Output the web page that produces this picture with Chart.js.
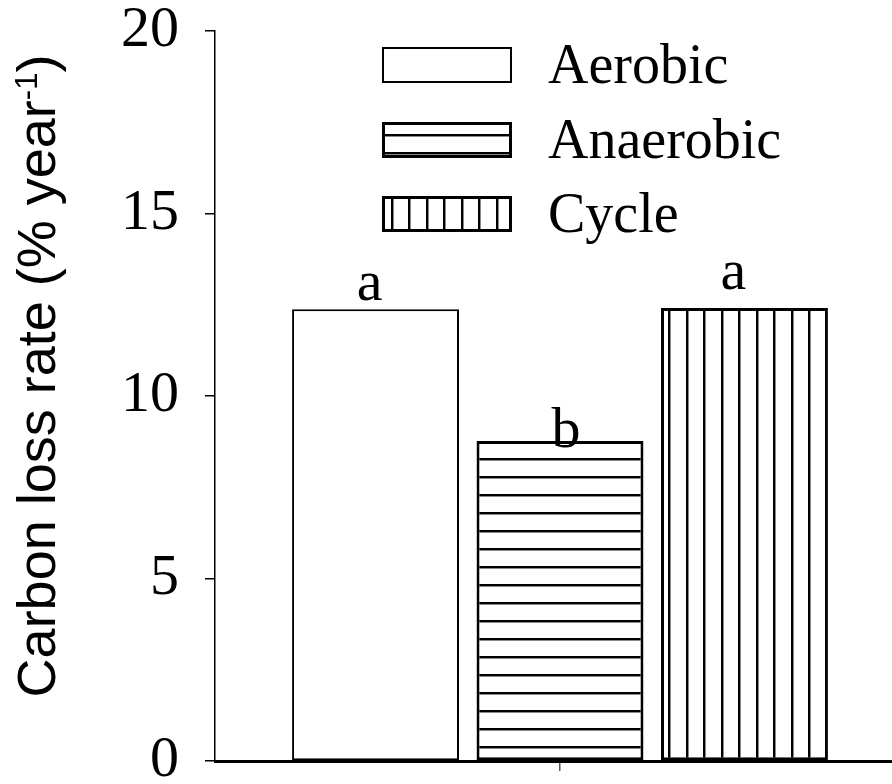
<!DOCTYPE html>
<html><head><meta charset="utf-8">
<script src="https://cdn.jsdelivr.net/npm/chart.js@4"></script>
<style>html,body{margin:0;padding:0;background:#fff;overflow:hidden;} #wrap{width:905px;height:784px;}</style>
</head><body><div id="wrap"><canvas id="c" width="905" height="784"></canvas></div>
<script>
// ---- data ----
const categories = [''];
const seriesNames = ['Aerobic', 'Anaerobic', 'Cycle'];
const aerobicValues = [12.38];
const anaerobicValues = [8.77];
const cycleValues = [12.41];
const letters = ['a', 'b', 'a'];
const letterY = [12.63, 8.6, 12.93];
const yTicks = [0, 5, 10, 15, 20];
const yTitle = 'Carbon loss rate (% year';
const yTitleSup = '-1';

// ---- patterns ----
function makePattern(w, h, rects) {
  const c = document.createElement('canvas');
  c.width = w; c.height = h;
  const g = c.getContext('2d');
  g.fillStyle = '#fff'; g.fillRect(0, 0, w, h);
  rects.forEach(r => { g.fillStyle = r[4]; g.fillRect(r[0], r[1], r[2], r[3]); });
  return g.createPattern(c, 'repeat');
}
const horizPattern = makePattern(18, 18, [[0, 8, 18, 2, '#000'], [0, 10, 18, 1, '#888']]);
const vertPattern = makePattern(35, 35, [[3, 0, 2, 35, '#000'], [5, 0, 1, 35, '#888'], [21, 0, 2, 35, '#000'], [23, 0, 1, 35, '#888']]);
const vertPatternLegend = makePattern(35, 35, [[6, 0, 2, 35, '#000'], [8, 0, 1, 35, '#888'], [23, 0, 2, 35, '#000'], [25, 0, 1, 35, '#888']]);

const serif = "'Liberation Serif', 'Times New Roman', serif";
const sans = "'Liberation Sans', Arial, sans-serif";

const letterPlugin = {
  id: 'letters',
  afterDatasetsDraw(chart, args, opts) {
    const ctx = chart.ctx;
    ctx.save();
    ctx.font = '58px ' + serif;
    ctx.fillStyle = '#000';
    ctx.textAlign = 'center';
    ctx.textBaseline = 'alphabetic';
    letters.forEach((t, i) => {
      const el = chart.getDatasetMeta(i).data[0];
      const y = chart.scales.y.getPixelForValue(letterY[i]);
      ctx.fillText(t, el.x + opts.dx[i], y);
    });
    ctx.restore();
  }
};

const legendPlugin = {
  id: 'customLegend',
  afterDraw(chart, args, opts) {
    const ctx = chart.ctx;
    ctx.save();
    chart.data.datasets.forEach((ds, i) => {
      const x = opts.x, y = opts.y[i], w = opts.w, h = opts.h;
      const bw = ds.borderWidth;
      ctx.fillStyle = opts.fills[i];
      ctx.fillRect(x, y, w, h);
      ctx.strokeStyle = '#000';
      ctx.lineWidth = bw;
      ctx.strokeRect(x + bw / 2, y + bw / 2, w - bw, h - bw);
      ctx.fillStyle = '#000';
      ctx.font = opts.fontSize + 'px ' + serif;
      ctx.textAlign = 'left';
      ctx.textBaseline = 'alphabetic';
      ctx.fillText(ds.label, opts.textX, y + h);
    });
    ctx.restore();
  }
};

const titlePlugin = {
  id: 'yTitle',
  afterDraw(chart, args, opts) {
    const ctx = chart.ctx;
    ctx.save();
    const mainFont = opts.size + 'px ' + sans;
    const supFont = opts.supSize + 'px ' + sans;
    ctx.font = mainFont;
    const w1 = ctx.measureText(yTitle).width;
    ctx.font = supFont;
    const w2 = ctx.measureText(yTitleSup).width;
    ctx.font = mainFont;
    const w3 = ctx.measureText(')').width;
    const total = w1 + w2 + w3;
    ctx.translate(opts.baseX, opts.centerY);
    ctx.rotate(-Math.PI / 2);
    ctx.fillStyle = '#000';
    ctx.textAlign = 'left';
    ctx.textBaseline = 'alphabetic';
    let sx = -total / 2;
    ctx.font = mainFont;
    ctx.fillText(yTitle, sx, 0);
    sx += w1;
    ctx.font = supFont;
    ctx.fillText(yTitleSup, sx, -opts.raise);
    sx += w2;
    ctx.font = mainFont;
    ctx.fillText(')', sx, 0);
    ctx.restore();
  }
};

new Chart(document.getElementById('c'), {
  type: 'bar',
  data: {
    labels: categories,
    datasets: [
      { label: seriesNames[0], data: aerobicValues, backgroundColor: '#fff', borderColor: '#000', borderWidth: 2, borderSkipped: false },
      { label: seriesNames[1], data: anaerobicValues, backgroundColor: horizPattern, borderColor: '#000', borderWidth: 3, borderSkipped: false },
      { label: seriesNames[2], data: cycleValues, backgroundColor: vertPattern, borderColor: '#000', borderWidth: 3, borderSkipped: false }
    ]
  },
  options: {
    responsive: false,
    animation: false,
    categoryPercentage: 0.802,
    barPercentage: 0.905,
    layout: { padding: { top: 31, left: 0, right: 0, bottom: 0 } },
    plugins: {
      legend: { display: false },
      tooltip: { enabled: false },
      letters: { dx: [-6, 6, -11] },
      customLegend: { x: 382, y: [47, 122, 196], w: 130, h: 36, textX: 548, fontSize: 56, fills: ['#fff', horizPattern, vertPatternLegend] },
      yTitle: { size: 54, supSize: 31, raise: 18, baseX: 55, centerY: 376 }
    },
    scales: {
      x: {
        z: 1,
        grid: { display: true, drawOnChartArea: false, drawTicks: true, tickLength: 10, offset: false, color: '#555', lineWidth: 1.5 },
        border: { display: true, color: '#000', width: 3 },
        ticks: { display: false },
        afterFit(s) { s.height = 23; s.paddingLeft = 0; s.paddingRight = 0; }
      },
      y: {
        min: 0, max: 20,
        grid: { display: true, drawOnChartArea: false, drawTicks: true, tickLength: 10, color: '#000', lineWidth: 1.5 },
        border: { display: true, color: '#000', width: 1.5 },
        ticks: { color: '#000', font: { family: serif, size: 58 }, padding: 26 },
        afterBuildTicks(s) { s.ticks = yTicks.map(v => ({ value: v })); },
        afterFit(s) { s.width = 215; s.paddingTop = 0; s.paddingBottom = 0; }
      }
    }
  },
  plugins: [letterPlugin, legendPlugin, titlePlugin]
});
</script>
</body></html>
